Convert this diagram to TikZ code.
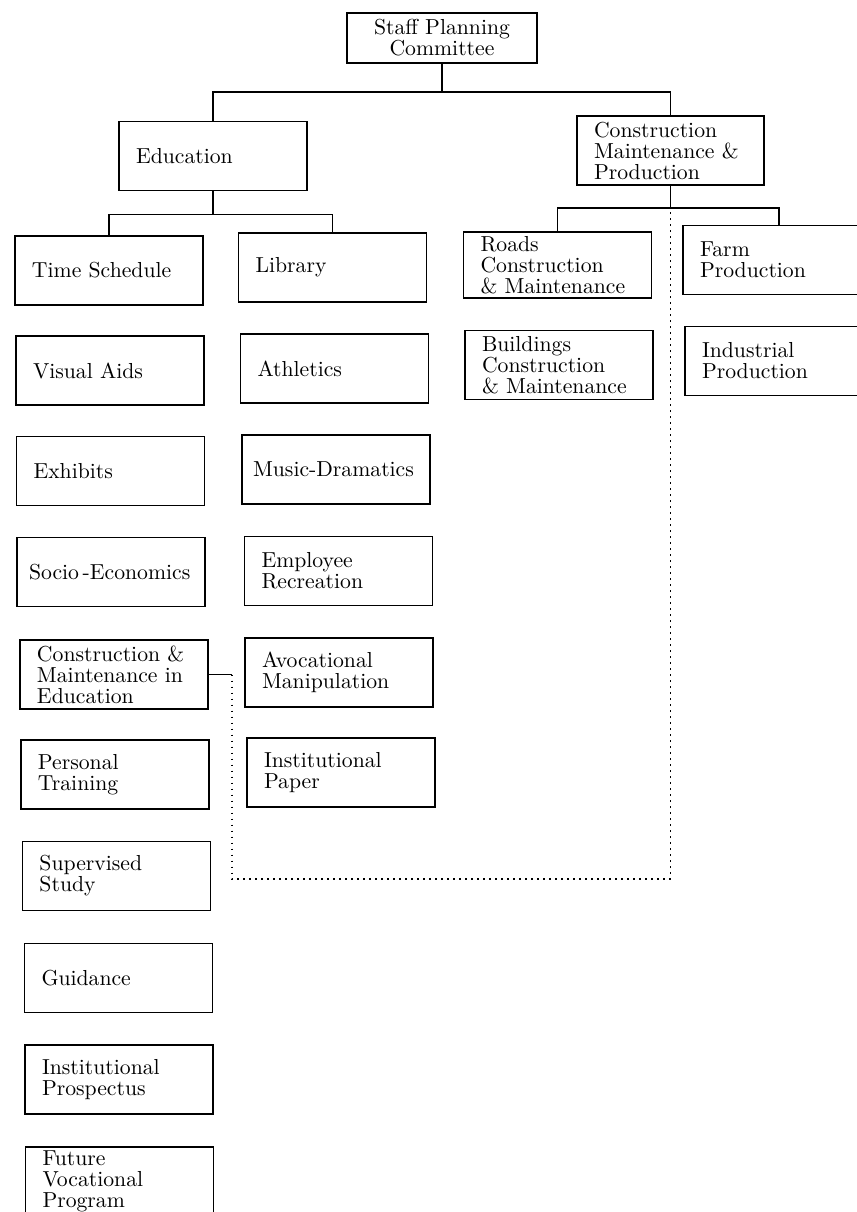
\documentclass[tikz,border=0pt]{standalone}
\tikzset{
  bx/.style={draw, line width=0.8pt, align=left, inner xsep=8.5pt, inner ysep=0pt,
    text width=77pt, minimum height=34.5pt, font=\fontsize{10.85}{10.5}\selectfont},
  link/.style={line width=0.7pt},
  dotline/.style={line width=0.9pt, dash pattern=on 0.9pt off 2.1pt},
}
\begin{document}
\begin{tikzpicture}[x=0.5pt, y=-0.5pt]
\clip (0,0) rectangle (857,1212);
\fill[white] (0,0) rectangle (857,1212);
% top level
\node[bx, align=center, text width=78pt, minimum height=25pt] (staff) at (442,38) {Staff Planning\\Committee};
\node[bx] (edu) at (213,156) {Education};
\node[bx, text width=76.5pt] (cmp) at (670.5,150.5) {Construction\\Maintenance \&\\Production};
% education, left column
\node[bx] (ts) at (109,270.5) {Time Schedule};
\node[bx] (va) at (110,370.5) {Visual Aids};
\node[bx] (ex) at (110.5,471) {Exhibits};
\node[bx, inner xsep=6pt, text width=82pt] (se) at (111,572) {\mbox{Socio\,-Economics}};
\node[bx] (cme) at (114,674.5) {Construction \&\\Maintenance in\\Education};
\node[bx] (pt) at (115,774.5) {Personal\\Training};
\node[bx] (ss) at (116.5,876) {Supervised\\Study};
\node[bx] (gd) at (118.5,978) {Guidance};
\node[bx] (ip) at (119,1079.5) {Institutional\\Prospectus};
\node[bx] (fv) at (119.5,1181.5) {Future\\Vocational\\Program};
% education, right column
\node[bx] (lib) at (332.5,267.5) {Library};
\node[bx] (ath) at (334.5,368.5) {Athletics};
\node[bx, inner xsep=5.5pt, text width=83pt] (md) at (336,469.5) {\mbox{Music-Dramatics}};
\node[bx] (er) at (338.5,571) {Employee\\Recreation};
\node[bx] (am) at (339,672.5) {Avocational\\Manipulation};
\node[bx] (ipap) at (341,772.5) {Institutional\\Paper};
% construction maintenance & production
\node[bx, minimum height=33pt] (roads) at (557.5,265) {Roads\\Construction\\\& Maintenance};
\node[bx] (bld) at (559,365) {Buildings\\Construction\\\& Maintenance};
\node[bx, text width=79pt] (farm) at (779,260) {Farm\\Production};
\node[bx, text width=79pt] (ind) at (781,361) {Industrial\\Production};
% connectors
\draw[link] (staff.south) -- ++(0,28) coordinate (b1);
\draw[link] (edu.north) |- (b1) -| (cmp.north);
\draw[link] (edu.south) -- ++(0,23) coordinate (b2);
\draw[link] (ts.north) |- (b2) -| (lib.north);
\draw[link] (cmp.south) -- ++(0,22) coordinate (b3);
\draw[link] (roads.north) |- (b3) -| (farm.north);
\draw[link] (cme.east) -- ++(23,0) coordinate (dj);
\coordinate (dl) at (0,879);
\draw[dotline] (dj) -- (dj |- dl) -| (b3);
\end{tikzpicture}
\end{document}
